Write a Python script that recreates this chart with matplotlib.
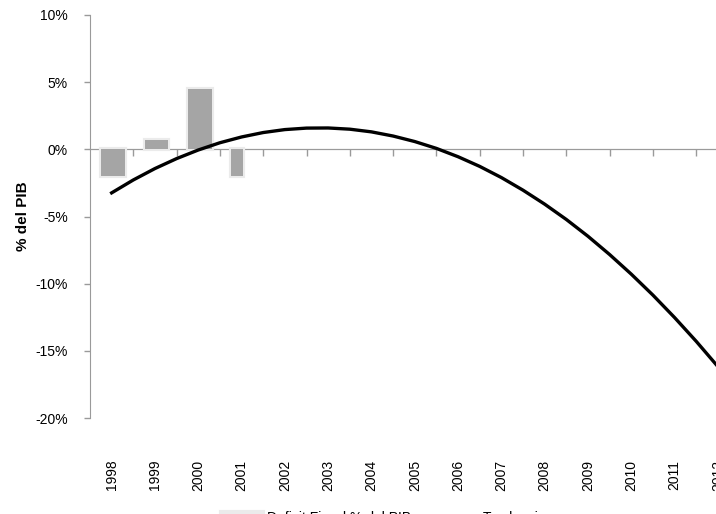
import matplotlib.pyplot as plt
from matplotlib.ticker import FuncFormatter, MultipleLocator

# --- data ---
years = [str(y) for y in range(1998, 2013)]
deficit = [-2.0, 0.7, 4.5, -2.0]          # % del PIB, 1998-2001
bar_widths = [0.55, 0.55, 0.55, 0.28]
# trend line every half year (1998.0 ... 2012.0)
trend_x = [i * 0.5 for i in range(29)]
trend = [-3.24, -2.28, -1.43, -0.69, -0.05, 0.49, 0.92, 1.25, 1.47, 1.58,
         1.59, 1.50, 1.30, 0.99, 0.58, 0.07, -0.55, -1.27, -2.10, -3.04,
         -4.08, -5.22, -6.47, -7.83, -9.29, -10.85, -12.52, -14.29, -16.17]

BAR_COLOR = '#A5A5A5'
GLOW_COLOR = '#EBEBEB'
AXIS_COLOR = '#9A9A9A'
TEXT_COLOR = '#000000'

plt.rcParams['font.family'] = ['Liberation Sans', 'DejaVu Sans']

fig = plt.figure(figsize=(7.16, 5.14), dpi=100)
ax = fig.add_axes([90 / 716, 96 / 514, 649.5 / 716, 403 / 514])

xs = list(range(len(years)))
left_edges = [i - 0.5 + 0.26 for i in range(len(deficit))]

# soft glow around bars, then the bars
ax.bar(left_edges, deficit, width=bar_widths, align='edge', color=GLOW_COLOR,
       edgecolor=GLOW_COLOR, linewidth=3, zorder=2)
bars = ax.bar(left_edges, deficit, width=bar_widths, align='edge',
              color=BAR_COLOR, linewidth=0, zorder=3,
              label='Deficit Fiscal % del PIB')

line, = ax.plot(trend_x, trend, color='black', linewidth=2.4, zorder=4,
                label='Tendencia')

ax.set_xlim(-0.5, len(years) - 0.5)
ax.set_ylim(-20, 10)
ax.yaxis.set_major_locator(MultipleLocator(5))
ax.yaxis.set_major_formatter(FuncFormatter(lambda v, p: f'{v:.0f}%'))

for s in ['top', 'right', 'bottom']:
    ax.spines[s].set_visible(False)
ax.spines['left'].set_color(AXIS_COLOR)
ax.tick_params(axis='y', colors=AXIS_COLOR, labelcolor=TEXT_COLOR,
               length=4, width=1, labelsize=10, pad=12)

ax.set_xticks(xs)
ax.set_xticklabels(years, rotation=90, fontsize=10)
ax.tick_params(axis='x', length=0, pad=30)

# horizontal category axis sitting at 0%
zero_frac = (0 - (-20)) / 30
sec = ax.secondary_xaxis(zero_frac)
sec.xaxis.set_ticks_position('bottom')
sec.set_xticks([i + 0.5 for i in range(len(years))])
sec.set_xticklabels([])
sec.tick_params(axis='x', direction='out', length=5, width=1,
                colors=AXIS_COLOR)
for s in sec.spines.values():
    s.set_visible(True)
    s.set_color(AXIS_COLOR)

ax.set_ylabel('% del PIB', fontsize=11, fontweight='bold', labelpad=4)

leg = fig.legend(handles=[bars, line], loc='upper center',
                 bbox_to_anchor=(0.536, 0.031), ncol=2, frameon=False,
                 fontsize=10, handlelength=3, handletextpad=0.35,
                 columnspacing=1.8)
# legend swatch gets the same soft glow as the bars
leg.legend_handles[0].set_edgecolor(GLOW_COLOR)
leg.legend_handles[0].set_linewidth(3)

fig.savefig('out.png', dpi=100)
